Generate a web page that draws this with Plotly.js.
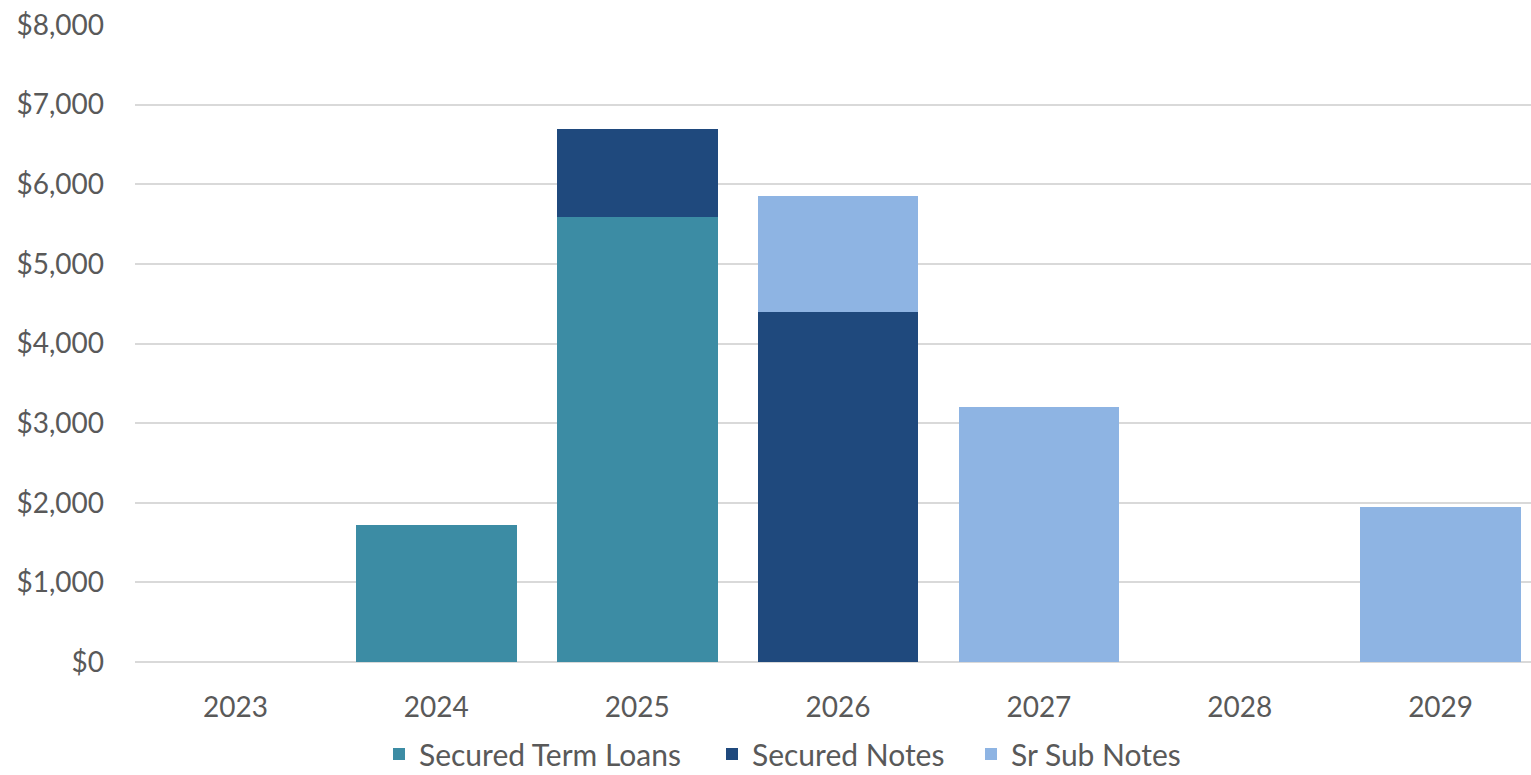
<!DOCTYPE html>
<html>
<head>
<meta charset="utf-8">
<script src="https://cdn.plot.ly/plotly-3.0.1.min.js"></script>
<style>html,body{margin:0;padding:0;background:#fff;}#chart{width:1531px;height:775px;}</style>
</head>
<body>
<div id="chart"></div>
<script>
var years = ['2023','2024','2025','2026','2027','2028','2029'];
var securedTermLoans = [0, 1720, 5590, 0, 0, 0, 0];
var securedNotes = [0, 0, 1100, 4400, 0, 0, 0];
var srSubNotes = [0, 0, 0, 1450, 3200, 0, 1950];
var yTickVals = [0,1000,2000,3000,4000,5000,6000,7000,8000];
var yTickText = ['$0','$1,000','$2,000','$3,000','$4,000','$5,000','$6,000','$7,000','$8,000'];

var font = {family: 'Lato, "Open Sans", sans-serif', size: 28, color: '#595959'};
var legFont = {family: 'Lato, "Open Sans", sans-serif', size: 30, color: '#595959'};
var traces = [
  {type:'bar', name:'Secured Term Loans', x:years, y:securedTermLoans, marker:{color:'#3C8CA4'}, legend:'legend'},
  {type:'bar', name:'Secured Notes', x:years, y:securedNotes, marker:{color:'#1F497D'}, legend:'legend2'},
  {type:'bar', name:'Sr Sub Notes', x:years, y:srSubNotes, marker:{color:'#8EB4E3'}, legend:'legend3'}
];
function leg(x){
  return {orientation:'h', xref:'container', x:x, xanchor:'left', yref:'paper', y:-0.1444, yanchor:'middle', font:legFont, itemwidth:30, bgcolor:'rgba(0,0,0,0)'};
}
var layout = {
  barmode:'stack', bargap:0.2,
  width:1531, height:775,
  margin:{l:135, r:0, t:25, b:113, autoexpand:false},
  paper_bgcolor:'#fff', plot_bgcolor:'#fff',
  font: font,
  showlegend:true,
  legend: leg(379/1531),
  legend2: leg(712/1531),
  legend3: leg(971/1531),
  xaxis:{type:'category', range:[-0.5, 6.45], showgrid:false, zeroline:false, showline:false, ticks:'', tickfont:font, ticklabelstandoff:26},
  yaxis:{range:[0,8000], tickvals:yTickVals, ticktext:yTickText, showgrid:true, gridcolor:'#D9D9D9', gridwidth:2, zeroline:true, zerolinecolor:'#D9D9D9', zerolinewidth:2, showline:false, ticks:'', tickfont:font, ticklabelstandoff:30}
};
Plotly.newPlot('chart', traces, layout, {displayModeBar:false, staticPlot:true});
</script>
</body>
</html>
